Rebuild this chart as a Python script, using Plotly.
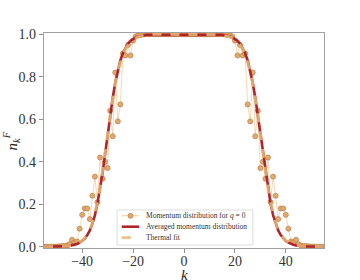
import plotly.graph_objects as go

# momentum index k
k = list(range(-55, 56))

# Momentum distribution for q = 0
n_q0 = [
    0.000, 0.000, 0.000, 0.000, 0.001, 0.001, 0.002, 0.003, 0.004, 0.006,
    0.012, 0.033, 0.020, 0.025, 0.085, 0.150, 0.180, 0.180, 0.130, 0.240,
    0.330, 0.210, 0.420, 0.320, 0.400, 0.370, 0.640, 0.520, 0.820, 0.590,
    0.670, 0.910, 0.900, 0.950, 0.900, 0.970, 0.990, 0.995, 0.997, 0.999,
    1.000, 1.000, 1.000, 1.000, 1.000, 1.000, 1.000, 1.000, 1.000, 1.000,
    1.000, 1.000, 1.000, 1.000, 1.000, 1.000, 1.000, 1.000, 1.000, 1.000,
    1.000, 1.000, 1.000, 1.000, 1.000, 1.000, 1.000, 1.000, 1.000, 1.000,
    1.000,
    0.999, 0.997, 0.995, 0.990, 0.970, 0.900, 0.950, 0.900, 0.910, 0.670,
    0.590, 0.820, 0.520, 0.640, 0.370, 0.400, 0.320, 0.420, 0.210, 0.330,
    0.240, 0.130, 0.180, 0.180, 0.150, 0.085, 0.025, 0.020, 0.033, 0.012,
    0.006, 0.004, 0.003, 0.002, 0.001, 0.001, 0.000, 0.000, 0.000, 0.000,
]

# Averaged momentum distribution
n_avg = [
    0.000, 0.000, 0.000, 0.000, 0.000, 0.001, 0.001, 0.001, 0.002, 0.003,
    0.004, 0.006, 0.009, 0.013, 0.019, 0.027, 0.038, 0.055, 0.077, 0.108,
    0.149, 0.203, 0.269, 0.348, 0.436, 0.528, 0.618, 0.701, 0.772, 0.831,
    0.877, 0.912, 0.937, 0.956, 0.969, 0.978, 0.985, 0.990, 0.993, 0.995,
    0.997, 0.998, 0.998, 0.999, 0.999, 1.000, 1.000, 1.000, 1.000, 1.000,
    1.000, 1.000, 1.000, 1.000, 1.000, 1.000, 1.000, 1.000, 1.000, 1.000,
    1.000, 1.000, 1.000, 1.000, 1.000, 1.000, 0.999, 0.999, 0.998, 0.998,
    0.997,
    0.995, 0.993, 0.990, 0.985, 0.978, 0.969, 0.956, 0.937, 0.912, 0.877,
    0.831, 0.772, 0.701, 0.618, 0.528, 0.436, 0.348, 0.269, 0.203, 0.149,
    0.108, 0.077, 0.055, 0.038, 0.027, 0.019, 0.013, 0.009, 0.006, 0.004,
    0.003, 0.002, 0.001, 0.001, 0.001, 0.000, 0.000, 0.000, 0.000, 0.000,
]

# Thermal fit
n_fit = [
    0.000, 0.000, 0.000, 0.000, 0.000, 0.001, 0.001, 0.002, 0.002, 0.003,
    0.005, 0.007, 0.010, 0.014, 0.020, 0.029, 0.041, 0.058, 0.081, 0.113,
    0.155, 0.209, 0.275, 0.352, 0.438, 0.528, 0.617, 0.698, 0.768, 0.826,
    0.871, 0.906, 0.932, 0.951, 0.965, 0.975, 0.983, 0.988, 0.992, 0.994,
    0.996, 0.998, 0.999, 1.000, 1.000, 1.000, 1.000, 1.000, 1.000, 1.000,
    1.000, 1.000, 1.000, 1.000, 1.000, 1.000, 1.000, 1.000, 1.000, 1.000,
    1.000, 1.000, 1.000, 1.000, 1.000, 1.000, 1.000, 1.000, 0.999, 0.998,
    0.996,
    0.994, 0.992, 0.988, 0.983, 0.975, 0.965, 0.951, 0.932, 0.906, 0.871,
    0.826, 0.768, 0.698, 0.617, 0.528, 0.438, 0.352, 0.275, 0.209, 0.155,
    0.113, 0.081, 0.058, 0.041, 0.029, 0.020, 0.014, 0.010, 0.007, 0.005,
    0.003, 0.002, 0.002, 0.001, 0.001, 0.000, 0.000, 0.000, 0.000, 0.000,
]

series_names = [
    "Momentum distribution for <i>q</i> = 0",
    "Averaged momentum distribution",
    "Thermal fit",
]

x_ticks = [-40, -20, 0, 20, 40]
y_ticks = [0.0, 0.2, 0.4, 0.6, 0.8, 1.0]

FONT = "Liberation Serif"
C_Q0_LINE = "rgba(236,190,130,0.75)"
C_Q0_FILL = "#e3aa6e"
C_Q0_EDGE = "#b87d45"
C_AVG = "#b0252a"
C_FIT = "rgba(232,184,120,0.85)"

fig = go.Figure()
fig.add_trace(go.Scatter(
    x=k, y=n_q0, mode="lines+markers", name=series_names[0], showlegend=False,
    line=dict(color=C_Q0_LINE, width=0.8),
    marker=dict(size=5, color=C_Q0_FILL, line=dict(color=C_Q0_EDGE, width=0.7)),
))
fig.add_trace(go.Scatter(
    x=k, y=n_avg, mode="lines", name=series_names[1], showlegend=False,
    line=dict(color=C_AVG, width=2.6),
))
fig.add_trace(go.Scatter(
    x=k, y=n_fit, mode="lines", name=series_names[2], showlegend=False,
    line=dict(color=C_FIT, width=3, dash="dash"),
))

# compact legend (matplotlib-like) built in paper coordinates
shapes = [dict(type="rect", xref="paper", yref="paper",
               x0=0.261, x1=0.746, y0=0.014, y1=0.177,
               fillcolor="rgba(255,255,255,0.9)", line=dict(color="#dddddd", width=1))]
annotations = []
row_y = [0.150, 0.099, 0.048]
lx0, lx1, mx, tx = 0.2775, 0.340, 0.309, 0.358
styles = [
    dict(color=C_Q0_LINE, width=1, dash="solid"),
    dict(color=C_AVG, width=2.6, dash="solid"),
    dict(color=C_FIT, width=3, dash="dash"),
]
for yy, st, name in zip(row_y, styles, series_names):
    shapes.append(dict(type="line", xref="paper", yref="paper",
                       x0=lx0, x1=lx1, y0=yy, y1=yy, line=st))
    annotations.append(dict(xref="paper", yref="paper", x=tx, y=yy,
                            xanchor="left", yanchor="middle", showarrow=False,
                            text=name, font=dict(family=FONT, size=7.5, color="#333")))
dx, dy = 2.5 / 280, 2.5 / 215
shapes.append(dict(type="circle", xref="paper", yref="paper",
                   x0=mx - dx, x1=mx + dx, y0=row_y[0] - dy, y1=row_y[0] + dy,
                   fillcolor=C_Q0_FILL, line=dict(color=C_Q0_EDGE, width=0.7)))

# axis titles as annotations for precise placement
annotations.append(dict(xref="paper", yref="paper", x=0.5, y=-0.125,
                        xanchor="center", yanchor="middle", showarrow=False,
                        text="<i>k</i>", font=dict(family=FONT, size=15, color="#222")))
annotations.append(dict(xref="paper", yref="paper", x=-0.118, y=0.50,
                        xanchor="center", yanchor="middle", showarrow=False, textangle=-90,
                        text="<i>n</i><sub><i>k</i></sub><sup><i>F</i></sup>",
                        font=dict(family=FONT, size=15, color="#222")))

axis_common = dict(
    showgrid=False, zeroline=False, showline=True, mirror=True,
    linecolor="#a0a0a0", linewidth=1.2, automargin=False,
    ticks="outside", ticklen=4, tickwidth=1, tickcolor="#909090",
    tickfont=dict(family=FONT, size=14, color="#333"),
)

fig.update_layout(
    width=360, height=280,
    margin=dict(l=44, r=36, t=33, b=32),
    paper_bgcolor="white", plot_bgcolor="white",
    font=dict(family=FONT, color="#222"),
    showlegend=False,
    shapes=shapes,
    annotations=annotations,
    xaxis=dict(range=[-55, 55], tickvals=x_ticks, ticklabelstandoff=-4, **axis_common),
    yaxis=dict(range=[-0.006, 1.006], tickvals=y_ticks, tickformat=".1f", **axis_common),
)

fig.write_html(
    "out.html",
    config={"displayModeBar": False},
    post_script="document.body.style.margin='0px';document.body.style.padding='0px';",
)
